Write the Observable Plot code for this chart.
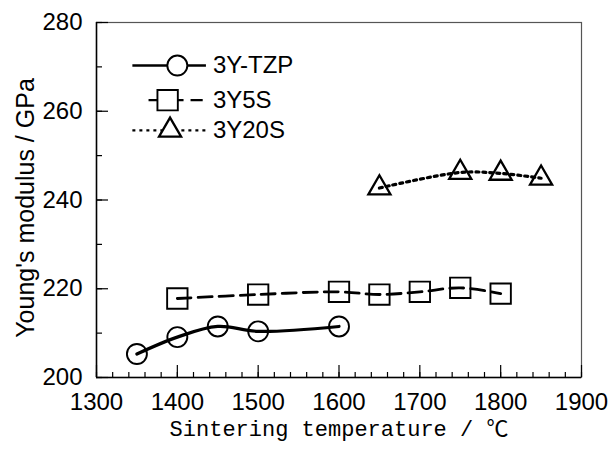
<!DOCTYPE html>
<html>
<head>
<meta charset="utf-8">
<script src="https://cdn.jsdelivr.net/npm/d3@7"></script>
<script src="https://cdn.jsdelivr.net/npm/@observablehq/plot@0.6"></script>
<style>
  html, body { margin: 0; padding: 0; background: #fff; }
</style>
</head>
<body>
<div id="chart"></div>
<script>
// ---- data ----
const tzpTemp = [1350, 1400, 1450, 1500, 1600];
const tzpE    = [205.3, 209.1, 211.5, 210.4, 211.5];
const s5Temp  = [1400, 1500, 1600, 1650, 1700, 1750, 1800];
const s5E     = [217.8, 218.7, 219.3, 218.7, 219.3, 220.2, 218.9];
const s20Temp = [1650, 1750, 1800, 1850];
const s20E    = [242.7, 246.2, 246.0, 244.9];

const seriesNames = ["3Y-TZP", "3Y5S", "3Y20S"];
const xTicks = [1300, 1400, 1500, 1600, 1700, 1800, 1900];
const yTicks = [200, 220, 240, 260, 280];
const xMinor = d3.range(1300, 1901, 20);
const yMinor = d3.range(200, 281, 10);

// legend rows (data space)
const legendY = [270.3, 262.5, 255.7];

const tzp = tzpTemp.map((t, i) => ({t, e: tzpE[i]}));
const s5 = s5Temp.map((t, i) => ({t, e: s5E[i]}));
const s20 = s20Temp.map((t, i) => ({t, e: s20E[i]}));

const sans = "'Liberation Sans', Arial, sans-serif";
const fs = 24;
const W = 610, H = 450, mL = 96, mR = 29, mT = 22, mB = 73;
const pw = W - mL - mR, ph = H - mT - mB;
const yDom = [200, 280], xDom = [1300, 1900];
const pxY = (yDom[1] - yDom[0]) / ph; // data units per pixel (y)
const pxX = (xDom[1] - xDom[0]) / pw; // data units per pixel (x)

const lineStyles = [
  {strokeWidth: 3.2},
  {strokeWidth: 2.8, strokeDasharray: "14,7"},
  {strokeWidth: 3.2, strokeDasharray: "3,4"}
];
const dotStyles = [
  {symbol: "circle", r: 10, strokeWidth: 1.9},
  {symbol: "square", r: 11.5, strokeWidth: 1.9},
  {symbol: "triangle", r: 8.2, strokeWidth: 2.3}
];
const legendLineX = [[1345, 1436], [1365, 1432], [1345, 1436]];
const legendDotX = [1400, 1388, 1391];

const legendMarks = seriesNames.flatMap((name, i) => {
  const row = [{name, y: legendY[i]}];
  return [
    Plot.ruleY(row, {y: "y", x1: legendLineX[i][0], x2: legendLineX[i][1], stroke: "#000",
      ...lineStyles[i], strokeWidth: lineStyles[i].strokeWidth * 0.75}),
    Plot.dot(row, {x: legendDotX[i], y: "y", stroke: "#000", fill: "#fff", ...dotStyles[i]}),
    Plot.text(row, {x: 1444, y: "y", text: "name", textAnchor: "start", fontSize: fs})
  ];
});

const series = [tzp, s5, s20];

const plot = Plot.plot({
  width: W,
  height: H,
  marginLeft: mL,
  marginRight: mR,
  marginTop: mT,
  marginBottom: mB,
  style: {fontFamily: sans, fontSize: fs + "px", color: "#000", background: "#fff"},
  x: {domain: xDom},
  y: {domain: yDom},
  marks: [
    Plot.frame({stroke: "#555", strokeWidth: 1.2}),
    // inward ticks
    Plot.ruleX(xMinor, {x: d => d, y1: yDom[0], y2: yDom[0] + 5 * pxY, stroke: "#000", strokeWidth: 1.2}),
    Plot.ruleX(xTicks, {x: d => d, y1: yDom[0], y2: yDom[0] + 12 * pxY, stroke: "#000", strokeWidth: 1.2}),
    Plot.ruleY(yMinor, {y: d => d, x1: xDom[0], x2: xDom[0] + 6 * pxX, stroke: "#000", strokeWidth: 1.2}),
    Plot.ruleY(yTicks, {y: d => d, x1: xDom[0], x2: xDom[0] + 12 * pxX, stroke: "#000", strokeWidth: 1.2}),
    // tick labels
    Plot.axisX(xTicks, {tickSize: 0, tickPadding: 15, fontSize: fs, label: null, tickFormat: d => String(d)}),
    Plot.axisY(yTicks, {tickSize: 0, tickPadding: 14, fontSize: fs, label: null}),
    Plot.ruleY([200], {stroke: "#000", strokeWidth: 1.5}),
    Plot.ruleX([1300], {stroke: "#000", strokeWidth: 1.5}),
    // axis titles
    Plot.text(["Young's modulus / GPa"], {frameAnchor: "left", rotate: -90, dx: -71, dy: 8, textAnchor: "middle",
      lineAnchor: "middle", fontSize: 25, text: d => d}),
    Plot.text(["Sintering temperature / \u2103"], {frameAnchor: "bottom", dy: 51, lineAnchor: "middle",
      textAnchor: "middle", fontSize: 22,
      fontFamily: "'Liberation Mono', 'DejaVu Sans Mono', 'Noto Sans CJK JP', monospace", text: d => d}),
    // series lines
    ...series.map((data, i) => Plot.line(data, {x: "t", y: "e", curve: "catmull-rom", stroke: "#000", ...lineStyles[i]})),
    // markers
    ...series.map((data, i) => Plot.dot(data, {x: "t", y: "e", stroke: "#000", fill: "none", ...dotStyles[i]})),
    // legend
    ...legendMarks
  ]
});
document.getElementById("chart").appendChild(plot);
</script>
</body>
</html>
